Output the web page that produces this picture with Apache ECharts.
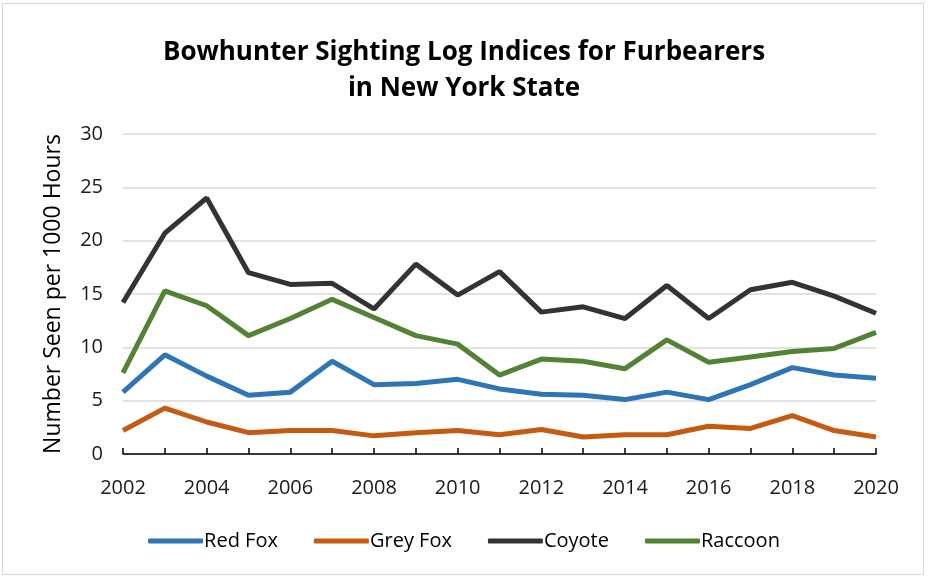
<!DOCTYPE html>
<html>
<head>
<meta charset="utf-8">
<script src="https://cdn.jsdelivr.net/npm/echarts@6/dist/echarts.min.js"></script>
<style>
html,body{margin:0;padding:0;background:#fff;}
#frame{position:absolute;left:2px;top:3px;width:922px;height:572px;border:1px solid #d9d9d9;box-sizing:border-box;}
#chart{position:absolute;left:0;top:0;width:928px;height:579px;}
</style>
</head>
<body>
<div id="frame"></div>
<div id="chart"></div>
<script>
var years = ['2002','2003','2004','2005','2006','2007','2008','2009','2010','2011',
             '2012','2013','2014','2015','2016','2017','2018','2019','2020'];
var redFox   = [5.8, 9.3, 7.3, 5.5, 5.8, 8.7, 6.5, 6.6, 7.0, 6.1, 5.6, 5.5, 5.1, 5.8, 5.1, 6.5, 8.1, 7.4, 7.1];
var greyFox  = [2.2, 4.3, 3.0, 2.0, 2.2, 2.2, 1.7, 2.0, 2.2, 1.8, 2.3, 1.6, 1.8, 1.8, 2.6, 2.4, 3.6, 2.2, 1.6];
var coyote   = [14.2, 20.7, 24.0, 17.0, 15.9, 16.0, 13.6, 17.8, 14.9, 17.1, 13.3, 13.8, 12.7, 15.8, 12.7, 15.4, 16.1, 14.8, 13.2];
var raccoon  = [7.6, 15.3, 13.9, 11.1, 12.7, 14.5, 12.8, 11.1, 10.3, 7.4, 8.9, 8.7, 8.0, 10.7, 8.6, 9.1, 9.6, 9.9, 11.4];

var font = '"Open Sans", sans-serif';

var line = function(name, data, color){
    return {
        name: name,
        type: 'line',
        data: data,
        symbol: 'none',
        lineStyle: {width: 5, color: color},
        itemStyle: {color: color}
    };
};

var myChart = echarts.init(document.getElementById('chart'));
myChart.setOption({
    animation: false,
    title: {
        text: 'Bowhunter Sighting Log Indices for Furbearers\nin New York State',
        left: 'center',
        top: 30,
        textStyle: {fontFamily: font, fontWeight: 'bold', fontSize: 26, lineHeight: 36, color: '#000'}
    },
    legend: {
        bottom: 23,
        left: 'center',
        itemWidth: 55,
        itemHeight: 5,
        itemGap: 36,
        icon: 'roundRect',
        textStyle: {fontFamily: font, fontSize: 20, color: '#000', padding: [0, 0, 0, -4]},
        data: ['Red Fox', 'Grey Fox', 'Coyote', 'Raccoon']
    },
    grid: {left: 123, right: 52, top: 134, bottom: 125},
    xAxis: {
        type: 'category',
        data: years,
        boundaryGap: false,
        axisLine: {lineStyle: {color: '#000', width: 1.5}},
        axisTick: {inside: true, length: 6, lineStyle: {color: '#000', width: 1.5}, interval: 0},
        axisLabel: {interval: 1, fontFamily: font, fontSize: 20, color: '#1a1a1a', margin: 24}
    },
    yAxis: {
        type: 'value',
        min: 0,
        max: 30,
        interval: 5,
        name: 'Number Seen per 1000 Hours',
        nameLocation: 'middle',
        nameGap: 58,
        nameTextStyle: {fontFamily: font, fontSize: 23, color: '#000'},
        axisLine: {show: false},
        axisTick: {show: false},
        splitLine: {lineStyle: {color: '#d9d9d9', width: 1.5}},
        axisLabel: {fontFamily: font, fontSize: 20, color: '#1a1a1a', margin: 20}
    },
    series: [
        line('Red Fox', redFox, '#2e75b6'),
        line('Grey Fox', greyFox, '#c55a11'),
        line('Coyote', coyote, '#333333'),
        line('Raccoon', raccoon, '#548235')
    ]
});
</script>
</body>
</html>
